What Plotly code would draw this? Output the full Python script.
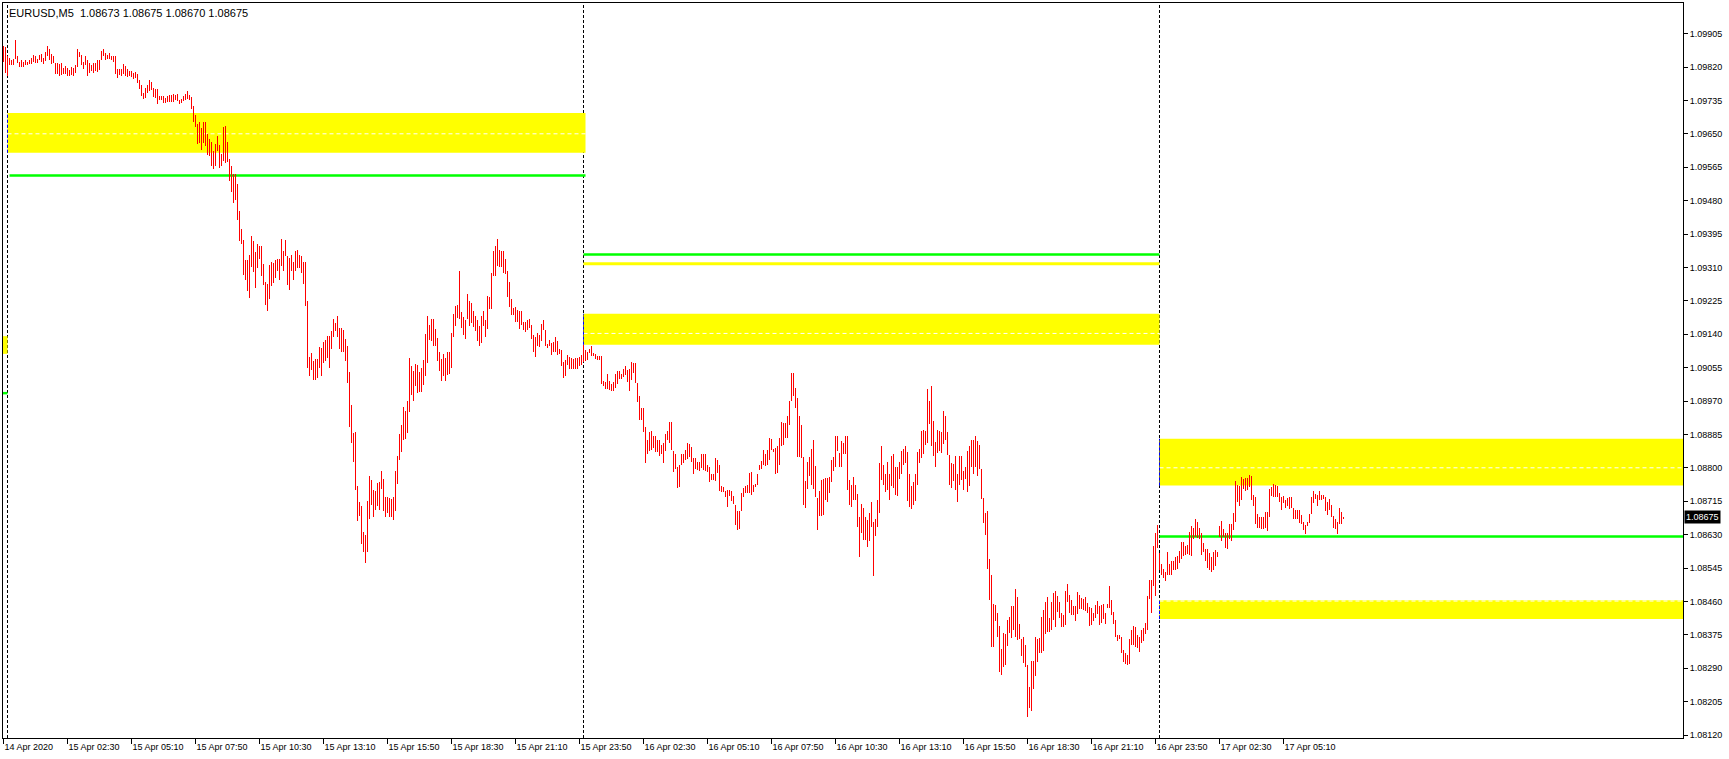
import plotly.graph_objects as go

# ---------------- data (EURUSD M5, bar index 0 = 14 Apr 23:50) ----------------
high = [
1.09874,1.09870,1.09848,1.09842,1.09838,1.09840,1.09889,1.09848,1.09834,1.09838,
1.09834,1.09838,1.09834,1.09837,1.09842,1.09851,1.09848,1.09840,1.09851,1.09853,
1.09842,1.09857,1.09874,1.09865,1.09854,1.09848,1.09830,1.09831,1.09827,1.09830,
1.09817,1.09823,1.09817,1.09813,1.09821,1.09817,1.09826,1.09866,1.09858,1.09851,
1.09834,1.09848,1.09838,1.09830,1.09826,1.09831,1.09830,1.09837,1.09838,1.09861,
1.09865,1.09855,1.09851,1.09855,1.09848,1.09848,1.09847,1.09815,1.09815,1.09814,
1.09828,1.09823,1.09814,1.09810,1.09809,1.09804,1.09807,1.09803,1.09787,1.09773,
1.09755,1.09766,1.09775,1.09787,1.09783,1.09766,1.09764,1.09764,1.09747,1.09747,
1.09747,1.09741,1.09745,1.09749,1.09749,1.09752,1.09749,1.09751,1.09736,1.09739,
1.09745,1.09752,1.09758,1.09749,1.09743,1.09721,1.09698,1.09675,1.09679,1.09666,
1.09679,1.09681,1.09650,1.09637,1.09628,1.09605,1.09625,1.09645,1.09622,1.09599,
1.09667,1.09670,1.09630,1.09586,1.09569,1.09548,1.09547,1.09523,1.09454,1.09408,
1.09380,1.09328,1.09328,1.09342,1.09390,1.09376,1.09348,1.09370,1.09365,1.09365,
1.09319,1.09272,1.09268,1.09317,1.09323,1.09321,1.09328,1.09332,1.09332,1.09383,
1.09353,1.09379,1.09338,1.09334,1.09342,1.09325,1.09352,1.09355,1.09342,1.09338,
1.09323,1.09323,1.09225,1.09083,1.09092,1.09073,1.09077,1.09077,1.09107,1.09105,
1.09119,1.09126,1.09136,1.09136,1.09147,1.09179,1.09168,1.09187,1.09155,1.09157,
1.09151,1.09128,1.09111,1.09044,1.08960,1.08888,1.08890,1.08753,1.08714,1.08703,
1.08636,1.08630,1.08716,1.08778,1.08770,1.08744,1.08742,1.08761,1.08764,1.08791,
1.08772,1.08727,1.08725,1.08723,1.08721,1.08727,1.08792,1.08831,1.08887,1.08910,
1.08956,1.08944,1.08971,1.09080,1.09058,1.09047,1.09065,1.09061,1.09045,1.09054,
1.09075,1.09141,1.09187,1.09164,1.09179,1.09179,1.09154,1.09130,1.09094,1.09077,
1.09090,1.09079,1.09096,1.09094,1.09143,1.09192,1.09212,1.09215,1.09300,1.09196,
1.09184,1.09177,1.09243,1.09225,1.09219,1.09198,1.09187,1.09175,1.09160,1.09187,
1.09198,1.09175,1.09236,1.09234,1.09297,1.09353,1.09365,1.09383,1.09355,1.09352,
1.09352,1.09331,1.09300,1.09274,1.09230,1.09206,1.09208,1.09202,1.09198,1.09200,
1.09172,1.09172,1.09177,1.09179,1.09164,1.09139,1.09134,1.09143,1.09137,1.09167,
1.09175,1.09151,1.09115,1.09126,1.09117,1.09119,1.09132,1.09122,1.09102,1.09100,
1.09069,1.09075,1.09088,1.09081,1.09079,1.09077,1.09079,1.09079,1.09082,1.09088,
1.09112,1.09101,1.09096,1.09103,1.09109,1.09092,1.09090,1.09085,1.09085,1.09085,
1.09020,1.09018,1.09040,1.09020,1.09014,1.09018,1.09040,1.09046,1.09046,1.09040,
1.09052,1.09058,1.09050,1.09052,1.09069,1.09067,1.09067,1.09016,1.08984,1.08951,
1.08951,1.08903,1.08870,1.08890,1.08893,1.08882,1.08880,1.08870,1.08870,1.08857,
1.08863,1.08885,1.08893,1.08917,1.08916,1.08844,1.08836,1.08802,1.08808,1.08836,
1.08836,1.08845,1.08862,1.08861,1.08853,1.08825,1.08825,1.08814,1.08814,1.08834,
1.08836,1.08836,1.08806,1.08802,1.08783,1.08783,1.08825,1.08821,1.08806,1.08753,
1.08751,1.08742,1.08743,1.08743,1.08742,1.08729,1.08706,1.08691,1.08691,1.08736,
1.08749,1.08753,1.08757,1.08787,1.08789,1.08757,1.08760,1.08783,1.08808,1.08817,
1.08845,1.08836,1.08845,1.08876,1.08874,1.08849,1.08850,1.08855,1.08876,1.08917,
1.08914,1.08914,1.08933,1.08971,1.09041,1.09041,1.09003,1.08978,1.08931,1.08910,
1.08828,1.08766,1.08815,1.08828,1.08848,1.08872,1.08804,1.08723,1.08740,1.08770,
1.08772,1.08774,1.08774,1.08777,1.08821,1.08828,1.08882,1.08882,1.08838,1.08868,
1.08863,1.08882,1.08882,1.08770,1.08755,1.08777,1.08757,1.08734,1.08676,1.08708,
1.08697,1.08676,1.08667,1.08684,1.08714,1.08663,1.08671,1.08718,1.08811,1.08856,
1.08808,1.08783,1.08814,1.08783,1.08831,1.08836,1.08801,1.08801,1.08814,1.08842,
1.08849,1.08855,1.08839,1.08785,1.08753,1.08763,1.08785,1.08839,1.08849,1.08893,
1.08895,1.08893,1.09000,1.08969,1.09007,1.08920,1.08865,1.08897,1.08893,1.08890,
1.08944,1.08933,1.08890,1.08833,1.08811,1.08810,1.08831,1.08785,1.08831,1.08829,
1.08791,1.08802,1.08842,1.08856,1.08872,1.08872,1.08882,1.08867,1.08859,1.08798,
1.08724,1.08686,1.08691,1.08568,1.08527,1.08454,1.08451,1.08431,1.08398,1.08339,
1.08379,1.08377,1.08413,1.08421,1.08448,1.08448,1.08492,1.08472,1.08403,1.08365,
1.08370,1.08348,1.08297,1.08241,1.08309,1.08309,1.08370,1.08365,1.08366,1.08421,
1.08438,1.08459,1.08472,1.08417,1.08459,1.08482,1.08487,1.08474,1.08459,1.08431,
1.08425,1.08487,1.08504,1.08476,1.08464,1.08449,1.08448,1.08484,1.08476,1.08468,
1.08466,1.08472,1.08457,1.08447,1.08444,1.08430,1.08451,1.08462,1.08448,1.08451,
1.08453,1.08431,1.08453,1.08499,1.08464,1.08434,1.08413,1.08375,1.08375,1.08370,
1.08337,1.08328,1.08324,1.08364,1.08386,1.08398,1.08396,1.08375,1.08370,1.08386,
1.08392,1.08405,1.08475,1.08514,1.08514,1.08602,1.08635,1.08655,1.08583,1.08556,
1.08543,1.08536,1.08585,1.08556,1.08563,1.08563,1.08574,1.08576,1.08589,1.08611,
1.08611,1.08602,1.08604,1.08636,1.08652,1.08646,1.08670,1.08661,1.08648,1.08634,
1.08608,1.08594,1.08594,1.08583,1.08572,1.08587,1.08590,1.08585,1.08652,1.08665,
1.08645,1.08634,1.08635,1.08658,1.08658,1.08686,1.08767,1.08757,1.08753,1.08776,
1.08772,1.08774,1.08774,1.08782,1.08778,1.08731,1.08725,1.08683,1.08675,1.08674,
1.08674,1.08687,1.08687,1.08746,1.08750,1.08759,1.08757,1.08753,1.08736,1.08725,
1.08729,1.08717,1.08723,1.08725,1.08725,1.08697,1.08693,1.08693,1.08693,1.08680,
1.08661,1.08655,1.08663,1.08683,1.08727,1.08740,1.08734,1.08731,1.08740,1.08731,
1.08731,1.08725,1.08714,1.08721,1.08706,1.08678,1.08669,1.08663,1.08699,1.08687,
1.08675]

low = [
1.09834,1.09806,1.09796,1.09824,1.09824,1.09826,1.09841,1.09830,1.09821,1.09821,
1.09821,1.09824,1.09826,1.09827,1.09828,1.09834,1.09830,1.09831,1.09837,1.09834,
1.09827,1.09836,1.09847,1.09838,1.09828,1.09830,1.09803,1.09802,1.09798,1.09800,
1.09803,1.09802,1.09798,1.09798,1.09800,1.09798,1.09806,1.09821,1.09845,1.09826,
1.09814,1.09826,1.09798,1.09804,1.09809,1.09806,1.09809,1.09807,1.09813,1.09838,
1.09848,1.09838,1.09840,1.09840,1.09838,1.09834,1.09802,1.09793,1.09800,1.09796,
1.09802,1.09798,1.09794,1.09796,1.09794,1.09790,1.09792,1.09779,1.09764,1.09747,
1.09738,1.09742,1.09753,1.09758,1.09762,1.09743,1.09741,1.09725,1.09735,1.09736,
1.09728,1.09728,1.09730,1.09731,1.09732,1.09732,1.09735,1.09734,1.09726,1.09728,
1.09734,1.09735,1.09739,1.09736,1.09713,1.09679,1.09667,1.09625,1.09626,1.09608,
1.09626,1.09618,1.09595,1.09594,1.09567,1.09561,1.09569,1.09605,1.09563,1.09569,
1.09580,1.09575,1.09578,1.09529,1.09503,1.09475,1.09482,1.09431,1.09376,1.09370,
1.09291,1.09279,1.09249,1.09232,1.09312,1.09298,1.09257,1.09308,1.09331,1.09287,
1.09266,1.09215,1.09198,1.09229,1.09263,1.09270,1.09283,1.09300,1.09277,1.09314,
1.09302,1.09338,1.09266,1.09253,1.09300,1.09279,1.09300,1.09308,1.09308,1.09295,
1.09268,1.09212,1.09055,1.09033,1.09048,1.09024,1.09024,1.09028,1.09054,1.09033,
1.09068,1.09071,1.09079,1.09055,1.09103,1.09134,1.09147,1.09134,1.09103,1.09096,
1.09094,1.09073,1.09015,1.08905,1.08862,1.08814,1.08744,1.08664,1.08678,1.08607,
1.08587,1.08559,1.08585,1.08670,1.08706,1.08674,1.08692,1.08702,1.08693,1.08747,
1.08689,1.08674,1.08685,1.08674,1.08674,1.08668,1.08689,1.08760,1.08821,1.08839,
1.08871,1.08873,1.08888,1.08943,1.08986,1.08969,1.09007,1.08990,1.08993,1.08992,
1.09011,1.09033,1.09067,1.09126,1.09124,1.09109,1.09109,1.09071,1.09047,1.09020,
1.09033,1.09020,1.09037,1.09039,1.09055,1.09133,1.09160,1.09181,1.09179,1.09157,
1.09139,1.09128,1.09178,1.09160,1.09168,1.09158,1.09147,1.09122,1.09111,1.09117,
1.09160,1.09134,1.09153,1.09204,1.09204,1.09287,1.09289,1.09314,1.09310,1.09312,
1.09297,1.09294,1.09234,1.09208,1.09188,1.09189,1.09172,1.09170,1.09153,1.09164,
1.09150,1.09145,1.09151,1.09156,1.09128,1.09096,1.09083,1.09109,1.09107,1.09122,
1.09150,1.09109,1.09106,1.09109,1.09088,1.09094,1.09096,1.09088,1.09090,1.09060,
1.09028,1.09033,1.09062,1.09051,1.09051,1.09051,1.09051,1.09051,1.09058,1.09062,
1.09070,1.09073,1.09075,1.09092,1.09085,1.09084,1.09077,1.09074,1.09075,1.09014,
1.09009,1.09001,1.09001,1.08999,1.08996,1.08995,1.09003,1.09014,1.09027,1.09026,
1.09030,1.09035,1.09018,1.08995,1.09024,1.09041,1.09016,1.08967,1.08921,1.08921,
1.08891,1.08812,1.08834,1.08842,1.08845,1.08851,1.08840,1.08840,1.08830,1.08836,
1.08812,1.08842,1.08870,1.08863,1.08845,1.08790,1.08797,1.08748,1.08751,1.08808,
1.08812,1.08819,1.08823,1.08827,1.08815,1.08784,1.08797,1.08794,1.08793,1.08800,
1.08795,1.08791,1.08789,1.08764,1.08770,1.08770,1.08766,1.08787,1.08740,1.08739,
1.08738,1.08725,1.08700,1.08728,1.08715,1.08709,1.08655,1.08642,1.08644,1.08689,
1.08726,1.08736,1.08736,1.08736,1.08732,1.08738,1.08750,1.08756,1.08794,1.08797,
1.08808,1.08804,1.08808,1.08821,1.08845,1.08840,1.08785,1.08787,1.08808,1.08855,
1.08857,1.08876,1.08876,1.08910,1.08969,1.08982,1.08952,1.08827,1.08827,1.08825,
1.08706,1.08698,1.08746,1.08778,1.08755,1.08745,1.08726,1.08642,1.08677,1.08678,
1.08681,1.08717,1.08712,1.08736,1.08763,1.08791,1.08801,1.08842,1.08802,1.08802,
1.08836,1.08834,1.08744,1.08705,1.08701,1.08718,1.08719,1.08650,1.08574,1.08633,
1.08616,1.08616,1.08599,1.08615,1.08650,1.08525,1.08627,1.08650,1.08686,1.08768,
1.08755,1.08738,1.08743,1.08718,1.08753,1.08749,1.08732,1.08728,1.08772,1.08785,
1.08808,1.08811,1.08715,1.08700,1.08695,1.08705,1.08715,1.08757,1.08811,1.08825,
1.08836,1.08857,1.08863,1.08912,1.08856,1.08831,1.08801,1.08838,1.08842,1.08838,
1.08861,1.08872,1.08833,1.08755,1.08749,1.08766,1.08743,1.08712,1.08757,1.08768,
1.08743,1.08772,1.08738,1.08753,1.08801,1.08783,1.08802,1.08780,1.08798,1.08721,
1.08659,1.08629,1.08543,1.08464,1.08345,1.08345,1.08409,1.08370,1.08280,1.08273,
1.08294,1.08298,1.08347,1.08379,1.08368,1.08387,1.08370,1.08362,1.08364,1.08321,
1.08304,1.08292,1.08165,1.08190,1.08180,1.08237,1.08271,1.08307,1.08330,1.08330,
1.08335,1.08377,1.08383,1.08381,1.08387,1.08413,1.08396,1.08434,1.08417,1.08396,
1.08396,1.08400,1.08459,1.08430,1.08425,1.08425,1.08409,1.08428,1.08440,1.08440,
1.08438,1.08436,1.08430,1.08398,1.08400,1.08409,1.08417,1.08428,1.08400,1.08406,
1.08415,1.08402,1.08442,1.08444,1.08425,1.08403,1.08370,1.08360,1.08364,1.08330,
1.08307,1.08301,1.08297,1.08301,1.08348,1.08348,1.08343,1.08342,1.08332,1.08354,
1.08359,1.08376,1.08388,1.08465,1.08431,1.08500,1.08475,1.08596,1.08541,1.08528,
1.08519,1.08513,1.08526,1.08526,1.08526,1.08539,1.08540,1.08542,1.08559,1.08568,
1.08576,1.08579,1.08580,1.08579,1.08576,1.08619,1.08623,1.08621,1.08619,1.08579,
1.08585,1.08564,1.08545,1.08539,1.08534,1.08539,1.08549,1.08572,1.08625,1.08613,
1.08624,1.08597,1.08593,1.08619,1.08613,1.08642,1.08663,1.08714,1.08703,1.08719,
1.08746,1.08742,1.08744,1.08751,1.08719,1.08702,1.08658,1.08646,1.08646,1.08644,
1.08644,1.08648,1.08638,1.08675,1.08729,1.08727,1.08725,1.08727,1.08712,1.08692,
1.08710,1.08697,1.08703,1.08695,1.08697,1.08670,1.08670,1.08669,1.08659,1.08658,
1.08641,1.08632,1.08651,1.08659,1.08683,1.08710,1.08721,1.08702,1.08719,1.08719,
1.08721,1.08691,1.08680,1.08693,1.08674,1.08646,1.08644,1.08632,1.08658,1.08658,
1.08670]

# x-axis labels (bar index, text)
x_tick_bars = [0, 32, 64, 96, 128, 160, 192, 224, 256, 288, 320, 352, 384, 416, 448, 480, 512, 544, 576, 608, 640]
x_tick_text = ["14 Apr 2020", "15 Apr 02:30", "15 Apr 05:10", "15 Apr 07:50", "15 Apr 10:30", "15 Apr 13:10",
               "15 Apr 15:50", "15 Apr 18:30", "15 Apr 21:10", "15 Apr 23:50", "16 Apr 02:30", "16 Apr 05:10",
               "16 Apr 07:50", "16 Apr 10:30", "16 Apr 13:10", "16 Apr 15:50", "16 Apr 18:30", "16 Apr 21:10",
               "16 Apr 23:50", "17 Apr 02:30", "17 Apr 05:10"]

# y-axis labels
y_tick_text = ["1.08120", "1.08205", "1.08290", "1.08375", "1.08460", "1.08545", "1.08630", "1.08715",
               "1.08800", "1.08885", "1.08970", "1.09055", "1.09140", "1.09225", "1.09310", "1.09395",
               "1.09480", "1.09565", "1.09650", "1.09735", "1.09820", "1.09905"]
y_tick_vals = [float(t) for t in y_tick_text]

# day separators (bar index of 00:00)
separators = [2, 290, 578]

# zones: yellow rectangles
yellow_start = [-1, 2, 290, 578, 578]
yellow_end = [2, 291, 578, 840, 840]
yellow_top = [1.09135, 1.09703, 1.09192, 1.08874, 1.08463]
yellow_bottom = [1.09090, 1.09602, 1.09113, 1.08755, 1.08415]
# white dashed mid levels in yellow zones
mid_start = [2, 290, 578, 578]
mid_end = [291, 578, 840, 840]
mid_level = [1.09650, 1.09142, 1.08800, 1.08461]
# green levels
green_start = [-1, 3, 290, 578]
green_end = [2, 291, 578, 840]
green_level = [1.08990, 1.09544, 1.09343, 1.08625]
# thin yellow level
thin_start = [290]
thin_end = [578]
thin_level = [1.09319]

symbol = "EURUSD,M5"
last_ohlc = ["1.08673", "1.08675", "1.08670", "1.08675"]
last_price = 1.08675

# ---------------- figure ----------------
X_RANGE = [-0.25, 839.75]
Y_RANGE = [1.081124, 1.099829]

xs, ys = [], []
for i, (h, l) in enumerate(zip(high, low)):
    xs += [i, i, None]
    ys += [l, h, None]

fig = go.Figure()
fig.add_trace(go.Scatter(x=xs, y=ys, mode="lines",
                         line=dict(color="#ff0000", width=1),
                         hoverinfo="skip", showlegend=False))

shapes = []
for x0, x1, t, b in zip(yellow_start, yellow_end, yellow_top, yellow_bottom):
    shapes.append(dict(type="rect", xref="x", yref="y", x0=x0, x1=x1, y0=b, y1=t,
                       fillcolor="#ffff00", line=dict(width=0), layer="below"))
for x0, x1, lv in zip(mid_start, mid_end, mid_level):
    shapes.append(dict(type="line", xref="x", yref="y", x0=x0, x1=x1, y0=lv, y1=lv,
                       line=dict(color="white", width=1, dash="4px,3px"), layer="below"))
for x0, x1, lv in zip(thin_start, thin_end, thin_level):
    shapes.append(dict(type="line", xref="x", yref="y", x0=x0, x1=x1, y0=lv, y1=lv,
                       line=dict(color="#ffff00", width=3), layer="below"))
for x0, x1, lv in zip(green_start, green_end, green_level):
    shapes.append(dict(type="line", xref="x", yref="y", x0=x0, x1=x1, y0=lv, y1=lv,
                       line=dict(color="#00ff00", width=2.5), layer="below"))
for s in separators:
    shapes.append(dict(type="line", xref="x", yref="paper", x0=s, x1=s, y0=0, y1=1,
                       line=dict(color="black", width=1, dash="3px,2px"), layer="below"))
    for x0, x1, t, b in zip(yellow_start, yellow_end, yellow_top, yellow_bottom):
        if x0 == s:
            shapes.append(dict(type="line", xref="x", yref="y", x0=s, x1=s, y0=b, y1=t,
                               line=dict(color="#0000ff", width=1, dash="3px,2px"), layer="below"))

annotations = [
    dict(xref="paper", yref="paper", x=0, y=1, xanchor="left", yanchor="top",
         xshift=4, yshift=-2, showarrow=False,
         text=symbol + "\u00a0\u00a0" + " ".join(last_ohlc),
         font=dict(family="Liberation Sans, Arial, sans-serif", size=11, color="black")),
    dict(xref="paper", yref="y", x=1, y=last_price, xanchor="left", yanchor="middle",
         xshift=1, showarrow=False, text=f"{last_price:.5f}", bgcolor="black",
         borderpad=1, font=dict(family="Liberation Sans, Arial, sans-serif", size=9, color="white")),
]

axis_font = dict(family="Liberation Sans, Arial, sans-serif", size=9, color="black")

fig.update_layout(
    width=1729, height=759,
    margin=dict(l=3, r=46, t=3, b=21, pad=0),
    paper_bgcolor="white", plot_bgcolor="white",
    shapes=shapes, annotations=annotations,
    showlegend=False,
    xaxis=dict(range=X_RANGE, showgrid=False, zeroline=False, showline=True, linecolor="black",
               linewidth=1, mirror=True, ticks="outside", ticklen=5, tickcolor="black",
               tickvals=x_tick_bars, ticktext=x_tick_text, ticklabelposition="outside right",
               tickfont=axis_font, automargin=False, fixedrange=True),
    yaxis=dict(range=Y_RANGE, side="right", showgrid=False, zeroline=False, showline=True,
               linecolor="black", linewidth=1, mirror=True, ticks="outside", ticklen=4,
               tickcolor="black", tickvals=y_tick_vals, ticktext=y_tick_text,
               tickfont=axis_font, automargin=False, fixedrange=True),
)

post = """
document.body.style.margin='0';
document.querySelectorAll('.scatterlayer path').forEach(function(p){p.style.shapeRendering='crispEdges';});
"""
fig.write_html("out.html", config={"displayModeBar": False}, post_script=post)
